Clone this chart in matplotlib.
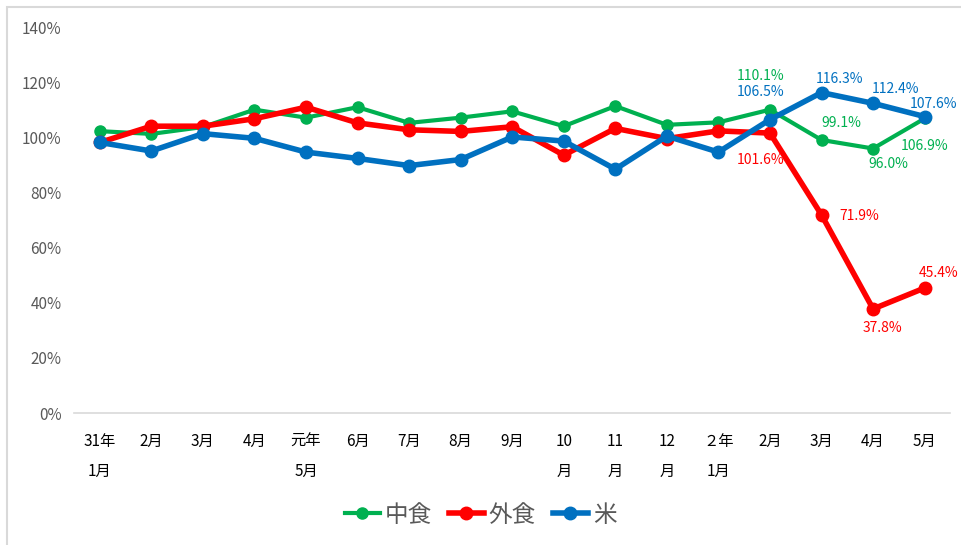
import matplotlib.pyplot as plt
from matplotlib.patches import Rectangle

plt.rcParams['font.family'] = ['Noto Sans CJK JP', 'DejaVu Sans']

months = ["31年\n1月", "2月", "3月", "4月", "元年\n5月", "6月", "7月", "8月", "9月",
          "10\n月", "11\n月", "12\n月", "２年\n1月", "2月", "3月", "4月", "5月"]
nakashoku = [102.3, 101.3, 103.8, 110.1, 107.2, 111.0, 105.3, 107.2, 109.5,
             104.1, 111.4, 104.6, 105.5, 110.1, 99.1, 96.0, 106.9]
gaishoku = [98.2, 104.1, 104.1, 106.8, 111.0, 105.3, 102.8, 102.2, 103.9,
            93.6, 103.3, 99.6, 102.4, 101.6, 71.9, 37.8, 45.4]
kome = [98.2, 95.1, 101.4, 99.7, 94.7, 92.4, 89.8, 92.0, 100.2,
        98.7, 88.5, 100.5, 94.7, 106.5, 116.3, 112.4, 107.6]

GREEN = '#00B050'
RED = '#FF0000'
BLUE = '#0070C0'

fig = plt.figure(figsize=(9.61, 5.45), dpi=100)
fig.patches.append(Rectangle((7/961, -0.1), 1.2, 1.1 - 7/545, transform=fig.transFigure,
                             fill=False, edgecolor='#D9D9D9', linewidth=1.5))
ax = fig.add_axes([0.077, 0.242, 0.912, 0.708])

x = list(range(len(months)))
ax.plot(x, nakashoku, color=GREEN, lw=3, marker='o', ms=8, label='中食', zorder=3)
ax.plot(x, gaishoku, color=RED, lw=4, marker='o', ms=9, label='外食', zorder=4)
ax.plot(x, kome, color=BLUE, lw=4, marker='o', ms=9, label='米', zorder=5)

# data labels on the last four months: (series, index, color, offset in points)
labels = [
    (nakashoku, 13, GREEN, (-7, 24)),
    (kome, 13, BLUE, (-7, 19.5)),
    (gaishoku, 13, RED, (-7, -19.5)),
    (nakashoku, 14, GREEN, (14, 12)),
    (kome, 14, BLUE, (13, 10)),
    (gaishoku, 14, RED, (27, -1)),
    (nakashoku, 15, GREEN, (11, -11)),
    (kome, 15, BLUE, (16, 10)),
    (gaishoku, 15, RED, (6.5, -14)),
    (nakashoku, 16, GREEN, (0, -19.5)),
    (kome, 16, BLUE, (6.5, 9)),
    (gaishoku, 16, RED, (10, 11)),
]
for series, i, c, off in labels:
    ax.annotate(f'{series[i]:.1f}%', (i, series[i]), xytext=off, textcoords='offset points',
                ha='center', va='center', color=c, fontsize=10)

ax.set_xlim(-0.5, len(months) - 0.5)
ax.set_ylim(0, 140)
ax.set_yticks(range(0, 141, 20))
ax.set_yticklabels([f'{v}%' for v in range(0, 141, 20)], color='#595959', fontsize=11)
ax.set_xticks(x)
ax.set_xticklabels(months, fontsize=11, linespacing=2.0, va='top')
ax.tick_params(length=0)
ax.tick_params(axis='x', pad=14)
ax.tick_params(axis='y', pad=9)
for s in ['top', 'right', 'left']:
    ax.spines[s].set_visible(False)
ax.spines['bottom'].set_color('#D9D9D9')
ax.spines['bottom'].set_linewidth(1.2)

leg = fig.legend(loc='center', bbox_to_anchor=(0.5, 0.055), ncol=3, frameon=False,
                 fontsize=17, handlelength=1.5, columnspacing=0.7, handletextpad=0.2)
for t in leg.get_texts():
    t.set_color('#595959')

fig.savefig('out.png', dpi=100)
